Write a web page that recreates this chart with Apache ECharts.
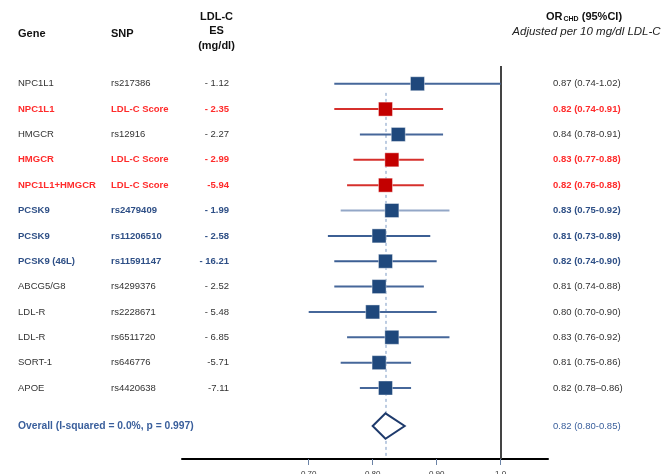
<!DOCTYPE html>
<html>
<head>
<meta charset="utf-8">
<script src="https://cdn.jsdelivr.net/npm/echarts@6/dist/echarts.min.js"></script>
<style>
  html, body { margin: 0; padding: 0; background: #fff; }
  #chart { width: 667px; height: 474px; }
</style>
</head>
<body>
<div id="chart"></div>
<script>
// Forest plot: odds ratio of CHD per 10 mg/dl lower LDL-C, by gene / variant
const genes = ['NPC1L1', 'NPC1L1', 'HMGCR', 'HMGCR', 'NPC1L1+HMGCR', 'PCSK9', 'PCSK9', 'PCSK9 (46L)',
  'ABCG5/G8', 'LDL-R', 'LDL-R', 'SORT-1', 'APOE'];
const snps = ['rs217386', 'LDL-C Score', 'rs12916', 'LDL-C Score', 'LDL-C Score', 'rs2479409', 'rs11206510',
  'rs11591147', 'rs4299376', 'rs2228671', 'rs6511720', 'rs646776', 'rs4420638'];
const ldlEffect = ['- 1.12', '- 2.35', '- 2.27', '- 2.99', '-5.94', '- 1.99', '- 2.58', '- 16.21',
  '- 2.52', '- 5.48', '- 6.85', '-5.71', '-7.11'];
const orValues = [0.87, 0.82, 0.84, 0.83, 0.82, 0.83, 0.81, 0.82, 0.81, 0.80, 0.83, 0.81, 0.82];
const ciLower = [0.74, 0.74, 0.78, 0.77, 0.76, 0.75, 0.73, 0.74, 0.74, 0.70, 0.76, 0.75, 0.78];
const ciUpper = [1.02, 0.91, 0.91, 0.88, 0.88, 0.92, 0.89, 0.90, 0.88, 0.90, 0.92, 0.86, 0.86];
const ciDash = ['-', '-', '-', '-', '-', '-', '-', '-', '-', '-', '-', '-', '\u2013'];
const rowKind = ['snp', 'score', 'snp', 'score', 'score', 'pcsk9', 'pcsk9', 'pcsk9',
  'snp', 'snp', 'snp', 'snp', 'snp'];

const overallLabel = 'Overall (I-squared = 0.0%, p = 0.997)';
const overallOR = 0.82;
const overallLower = 0.80;
const overallUpper = 0.85;

const tickValues = [0.70, 0.80, 0.90, 1.0];
const tickLabels = ['0.70', '0.80', '0.90', '1.0'];

// ---- styling ----
const FONT = '"Liberation Sans", Arial, sans-serif';
const kindStyle = {
  snp:   { text: '#333333', weight: 'normal', whisker: '#46679a', square: '#1f487c', orText: '#333333' },
  score: { text: '#ff2b2b', weight: 'bold',   whisker: '#d6302c', square: '#c30000', orText: '#ff2b2b' },
  pcsk9: { text: '#2e4f86', weight: 'bold',   whisker: '#3c5f94', square: '#1f487c', orText: '#2e4f86' }
};
const overallRow = genes.length + 0.5;   // gap before the pooled estimate
const fmt = v => v.toFixed(2);

const rows = genes.map((g, i) => [ciLower[i], ciUpper[i], orValues[i], i]);
const squares = orValues.map((v, i) => ({
  value: [v, i],
  itemStyle: { color: kindStyle[rowKind[i]].square }
}));

function txt(x, y, text, color, weight, align, size) {
  return {
    type: 'text',
    style: {
      x: x, y: y, text: text, fill: color,
      font: weight + ' ' + (size || 9.5) + 'px ' + FONT,
      align: align || 'left', textAlign: align || 'left',
      verticalAlign: 'middle', textVerticalAlign: 'middle'
    },
    silent: true
  };
}

const chart = echarts.init(document.getElementById('chart'), null, { renderer: 'canvas' });

chart.setOption({
  animation: false,
  backgroundColor: '#ffffff',
  grid: { left: 182, right: 119, top: 66, bottom: 15, containLabel: false, outerBoundsMode: 'none' },
  xAxis: {
    type: 'value',
    position: 'bottom',
    min: 0.502,
    max: 1.074,
    splitLine: { show: false },
    axisLine: { show: true, onZero: false, lineStyle: { color: '#000', width: 2 } },
    axisTick: { show: true, customValues: tickValues, length: 6, lineStyle: { color: '#6c83a6', width: 1 } },
    axisLabel: {
      show: true, customValues: tickValues, margin: 11,
      fontFamily: FONT, fontSize: 8, color: '#333',
      formatter: v => tickLabels[tickValues.findIndex(t => Math.abs(t - v) < 1e-9)]
    }
  },
  yAxis: {
    type: 'value',
    inverse: true,
    min: -0.7,
    max: 14.8,
    show: false
  },
  series: [
    {
      // confidence-interval whiskers plus the text columns of every row
      type: 'custom',
      clip: false,
      silent: true,
      data: rows,
      encode: { x: [0, 1, 2], y: 3 },
      renderItem: function (params, api) {
        const i = api.value(3);
        const st = kindStyle[rowKind[i]];
        // whiskers stop at the line of no effect
        const p0 = api.coord([api.value(0), i]);
        const p1 = api.coord([Math.min(api.value(1), 1.0), i]);
        const y = p0[1];
        const whiskerColor = i === 5 ? '#93a7c7' : st.whisker;
        return {
          type: 'group',
          children: [
            {
              type: 'line',
              shape: { x1: p0[0], y1: y, x2: p1[0], y2: y },
              style: { stroke: whiskerColor, lineWidth: 2 }
            },
            txt(18, y, genes[i], st.text, st.weight),
            txt(111, y, snps[i], st.text, st.weight),
            txt(229, y, ldlEffect[i], st.text, st.weight, 'right'),
            txt(553, y, fmt(orValues[i]) + ' (' + fmt(ciLower[i]) + ciDash[i] + fmt(ciUpper[i]) + ')',
              st.orText, st.weight)
          ]
        };
      },
      markLine: {
        silent: true,
        z: 1,
        symbol: 'none',
        label: { show: false },
        data: [
          [{ coord: [overallOR, 0.36] }, { coord: [overallOR, 14.8] }]
        ],
        lineStyle: { color: '#a8bcd8', width: 1.5, type: [3, 3] }
      },
      z: 2
    },
    {
      // point estimates
      type: 'scatter',
      symbol: 'rect',
      symbolSize: 14,
      silent: true,
      data: squares,
      itemStyle: { opacity: 1, borderColor: 'rgba(255,255,255,0.5)', borderWidth: 0.8 },
      markLine: {
        silent: true,
        z: 1,
        symbol: 'none',
        label: { show: false },
        data: [{ xAxis: 1.0 }],
        lineStyle: { color: '#444', width: 2, type: 'solid' }
      },
      z: 3
    },
    {
      // pooled estimate
      type: 'custom',
      clip: false,
      silent: true,
      data: [[overallLower, overallUpper, overallOR, overallRow]],
      encode: { x: [0, 1, 2], y: 3 },
      renderItem: function (params, api) {
        const r = api.value(3);
        const l = api.coord([api.value(0), r]);
        const h = api.coord([api.value(1), r]);
        const top = api.coord([api.value(2), r - 0.5]);
        const bot = api.coord([api.value(2), r + 0.5]);
        const blue = '#3a5f9c';
        return {
          type: 'group',
          children: [
            {
              type: 'polygon',
              shape: { points: [l, top, h, bot] },
              style: { fill: '#ffffff', stroke: '#1e3a6c', lineWidth: 2 }
            },
            txt(18, l[1], overallLabel, blue, 'bold', 'left', 10.3),
            txt(553, l[1], fmt(api.value(2)) + ' (' + fmt(api.value(0)) + '-' + fmt(api.value(1)) + ')',
              blue, 'normal')
          ]
        };
      },
      z: 4
    }
  ],
  graphic: [
    { type: 'text', left: 18, top: 28, style: { text: 'Gene', font: 'bold 11px ' + FONT, fill: '#111' } },
    { type: 'text', left: 111, top: 28, style: { text: 'SNP', font: 'bold 11px ' + FONT, fill: '#111' } },
    {
      type: 'text', x: 216.5, y: 9.5,
      style: {
        text: 'LDL-C\nES\n(mg/dl)', font: 'bold 11px ' + FONT, fill: '#111',
        align: 'center', textAlign: 'center', lineHeight: 14.5
      }
    },
    {
      type: 'text', x: 546, y: 10,
      style: {
        text: '{a|OR}{s|CHD}{a| (95%CI)}',
        rich: {
          a: { fontFamily: FONT, fontWeight: 'bold', fontSize: 11, fill: '#111', color: '#111' },
          s: { fontFamily: FONT, fontWeight: 'bold', fontSize: 7, fill: '#111', color: '#111', padding: [6, 0, 0, 1] }
        }
      }
    },
    {
      type: 'text', x: 586.5, y: 26,
      style: {
        text: 'Adjusted per 10 mg/dl LDL-C', font: 'italic 11.5px ' + FONT, fill: '#222',
        align: 'center', textAlign: 'center'
      }
    }
  ]
});
</script>
</body>
</html>
